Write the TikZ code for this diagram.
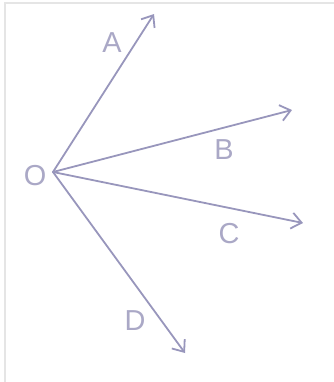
\documentclass[tikz,border=0pt]{standalone}
\usepackage{fontspec}
\setmainfont{Liberation Sans}
\usetikzlibrary{arrows.meta}
\definecolor{raygray}{RGB}{152,150,188}
\definecolor{lblgray}{RGB}{170,168,198}
\begin{document}
\begin{tikzpicture}[x=1bp,y=-1bp,ray/.style={raygray,line width=1.8bp,line cap=round,-{Straight Barb[length=10bp,width=16bp,line width=1.8bp]}},lbl/.style={text=lblgray,font=\fontsize{29}{29}\selectfont,inner sep=0pt}]
\useasboundingbox (0,0) rectangle (334,382);
\draw[black!10,line width=1.2bp] (5,382) -- (5,3) -- (334,3);
\coordinate (O) at (53,172);
\node[lbl] (lO) at (35,176) {O};
\foreach \n/\x/\y/\lx/\ly in %
{A/154/14/112/43,B/292/110/224/150,C/303/223/229/234,D/185/353/135/321} {
   \coordinate (t\n) at (\x,\y);
   \draw[ray] (O) -- (t\n);
   \node[lbl] (l\n) at (\lx,\ly) {\n};
}
\end{tikzpicture}
\end{document}
